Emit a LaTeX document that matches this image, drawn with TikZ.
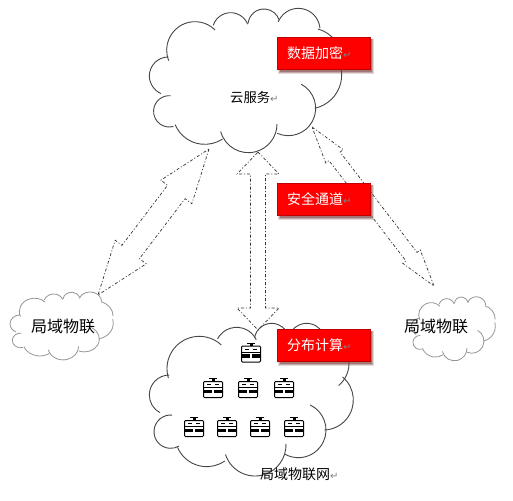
\documentclass[tikz,border=0pt]{standalone}
\usepackage{fontspec}
\setmainfont{Noto Sans CJK SC}
\newfontfamily\markfont{DejaVu Sans}
\usetikzlibrary{calc}
\definecolor{cloudline}{RGB}{70,70,70}
\definecolor{softline}{RGB}{150,150,150}
\definecolor{shadowtone}{RGB}{120,60,60}
\newcommand{\lobe}[5]{\draw ({#1},{-(#2)}) ++(#4:#3) arc[start angle=#4,end angle=#5,radius=#3];}
\newcommand{\retmark}{{\markfont\fontsize{10}{10}\selectfont\textcolor{gray}{↵}}}
\newcommand{\cloudA}{%
\lobe{165}{150}{85}{202}{45}
\lobe{272}{93}{55}{162}{22}
\lobe{372}{75}{48}{174}{18}
\lobe{475}{90}{65}{158}{5}
\lobe{510}{178}{94}{75}{0}
\lobe{503}{225}{102}{15}{-78}
\lobe{445}{325}{82}{62}{-114}
\lobe{325}{372}{86}{195}{360}
\lobe{194.5}{336}{97}{203}{303}
\lobe{87.7}{334}{47}{85}{285}
\lobe{85}{228}{57}{90}{247}}
\newcommand{\cloudB}{%
\lobe{178}{146}{97}{197}{47}
\lobe{290}{87}{65}{152}{25}
\lobe{395}{62}{52}{170}{28}
\lobe{500}{65}{55}{150}{30}
\lobe{540}{130}{87}{60}{-50}
\lobe{550}{240}{90}{50}{-88}
\lobe{475}{330}{83}{65}{-120}
\lobe{345}{375}{93}{198}{362}
\lobe{200}{345}{95}{203}{305}
\lobe{92}{335}{50}{85}{300}
\lobe{88}{225}{60}{90}{242}}
\newcommand{\dblarrow}[6]{% name, tipA, tipB, head half, shaft half, head length
\coordinate (#1a) at ($(#2)!#6pt!(#3)$);
\coordinate (#1b) at ($(#3)!#6pt!(#2)$);
\draw[arrowline] (#2) -- ($(#1a)!#4pt!90:(#3)$) -- ($(#1a)!#5pt!90:(#3)$) -- ($(#1b)!#5pt!-90:(#2)$) -- ($(#1b)!#4pt!-90:(#2)$) -- (#3) -- ($(#1b)!#4pt!90:(#2)$) -- ($(#1b)!#5pt!90:(#2)$) -- ($(#1a)!#5pt!-90:(#3)$) -- ($(#1a)!#4pt!-90:(#3)$) -- cycle;}
\tikzset{
 x=1pt,y=1pt,
 arrowline/.style={draw=black!80,line width=0.7pt,dash pattern=on 3pt off 2pt on 1pt off 2pt},
 redbox/.style={fill=red,draw=red!75!black,line width=0.4pt,minimum width=93pt,minimum height=32pt,inner sep=0pt,text=white,font=\fontsize{14}{14}\selectfont,anchor=north west,text width=93pt,align=left},
 label14/.style={inner sep=0pt,anchor=west,font=\fontsize{14}{14}\selectfont},
 label16/.style={inner sep=0pt,anchor=west,font=\fontsize{16}{16}\selectfont},
 server/.pic={
  \fill[white] (-10,-10) rectangle (10,7);
  \draw[black,line width=1pt,rounded corners=1pt] (-9.5,-9.5) rectangle (9.5,6.5);
  \draw[black,line width=1pt] (-4,9.5) -- (4,9.5);
  \fill[black] (-1.5,9.5) rectangle (1.5,6.5);
  \fill[black] (-9.5,0) rectangle (9.5,1);
  \draw[black,line width=0.8pt] (-6,3.5) -- (-2,3.5) (2,3.5) -- (6,3.5);
  \fill[black] (-9,-5) rectangle (-1.3,-1.5);
  \fill[black] (1.3,-5) rectangle (9,-1.5);
 }
}
\begin{document}
\begin{tikzpicture}
\useasboundingbox (0,0) rectangle (513,-500);
\fill[white] (0,0) rectangle (513,-500);
% clouds
\begin{scope}[shift={(140,0)},scale=1/3,draw=cloudline,line width=0.9pt]
\cloudA
\end{scope}
\begin{scope}[shift={(140,-320)},scale=1/3,draw=cloudline,line width=0.9pt]
\cloudB
\end{scope}
\begin{scope}[shift={(5,-288)},xscale=.179,yscale=.157,draw=softline,line width=0.8pt]
\cloudA
\end{scope}
\begin{scope}[shift={(407,-293)},xscale=.146,yscale=.148,draw=softline,line width=0.8pt]
\cloudA
\end{scope}
% arrows
\coordinate (ltop) at (209,-149);
\coordinate (lbot) at (98,-295);
\coordinate (ctop) at (258,-152);
\coordinate (cbot) at (258,-330);
\coordinate (rtop) at (312,-127);
\coordinate (rbot) at (434,-286);
\dblarrow{L}{ltop}{lbot}{19.5}{11}{54}
\dblarrow{C}{ctop}{cbot}{21}{7.5}{22}
\dblarrow{R}{rtop}{rbot}{11}{7}{37}
% servers
\foreach \n/\px/\py in {a/251/352.5,b/213/388,c/248/388,d/284/388,e/194/427,f/227/427,g/260/427,h/294/427}
  \pic (srv\n) at (\px,-\py) {server};
% red boxes
\foreach \n/\py/\txt in {r1/37/数据加密,r2/183/安全通道,r3/329/分布计算}{
  \fill[shadowtone,opacity=.2] (277.5,-\py-2) rectangle (374,-\py-37);
  \fill[shadowtone,opacity=.3] (278.5,-\py-2) rectangle (373,-\py-36);
  \fill[shadowtone,opacity=.45] (279.5,-\py-2) rectangle (372,-\py-35);
  \node[redbox] (\n) at (277,-\py) {\hspace{10pt}\txt\retmark};
}
% labels
\node[inner sep=0pt,anchor=west,font=\fontsize{13.3}{14}\selectfont] (t1) at (230,-97) {云服务\retmark};
\node[label14] (t2) at (260,-474) {局域物联网\retmark};
\node[label16] (t3) at (31,-326) {局域物联};
\node[label16] (t4) at (404,-326) {局域物联};
\end{tikzpicture}
\end{document}
